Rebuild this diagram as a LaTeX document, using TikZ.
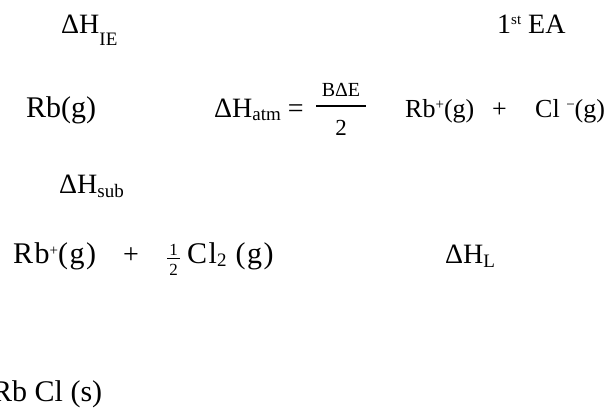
\documentclass[tikz,border=0pt]{standalone}
\usepackage{amsmath}
\usepackage{fontspec}
\setmainfont{Liberation Serif}
\usetikzlibrary{positioning}

\newcommand\lowsub[2][4pt]{\raisebox{-#1}{\fontsize{19}{19}\selectfont #2}}
\newcommand\highsup[2][9pt]{\raisebox{#1}{\fontsize{15}{15}\selectfont #2}}

\begin{document}
\begin{tikzpicture}[x=1pt,y=-1pt,
  term/.style={anchor=base west,inner sep=0pt,font=\fontsize{28}{34}\selectfont},
  wide/.style={term,font=\fontsize{30}{36}\selectfont\addfontfeature{LetterSpace=5}},
  ion/.style={anchor=base west,inner sep=0pt,font=\fontsize{26}{31}\selectfont},
  numer/.style={anchor=base,inner sep=0pt,font=\fontsize{17}{20}\selectfont}]
\useasboundingbox (0,0) rectangle (614,410);
% top row: ionisation and electron affinity
\node[term] (ie) at (61,33) {ΔH\lowsub[12pt]{IE}};
\node[term] (ea) at (497,33) {1\highsup{st} EA};
% gaseous atoms and ions
\node[term,font=\fontsize{30}{36}\selectfont] (rbg) at (26,117) {Rb(g)};
\node[term] (atm) at (214,117) {ΔH\lowsub[3pt]{atm} =};
\node[numer,font=\fontsize{20}{24}\selectfont] (bde) at (341,96) {BΔE};
\node[numer,font=\fontsize{23}{27}\selectfont] (two) at (341,135) {2};
\draw[line width=1.3pt] (316,106)--(366,106);
\node[ion] (rbion) at (405,117) {Rb\highsup[8pt]{+}(g)};
\node[ion] (ionplus) at (492,117) {+};
\node[ion] (clion) at (535,117) {Cl \highsup[8pt]{−}(g)};
% sublimation
\node[term] (sub) at (59,193) {ΔH\lowsub[4pt]{sub}};
% ion + half chlorine
\node[wide] (rbp) at (13,263) {Rb\highsup[8pt]{+}(g)};
\node[term] (plus) at (123,263) {+};
\node[numer] (one) at (173.5,255) {1};
\node[numer] (half) at (173.5,275) {2};
\draw[line width=.8pt] (167,258.5)--(180,258.5);
\node[wide] (cl2) at (187,263) {Cl\lowsub[3pt]{2} (g)};
\node[term] (lat) at (445,263) {ΔH\lowsub[4pt]{L}};
% lattice
\node[term,font=\fontsize{30}{36}\selectfont] (rbcl) at (-8,401) {Rb Cl (s)};
\end{tikzpicture}
\end{document}
